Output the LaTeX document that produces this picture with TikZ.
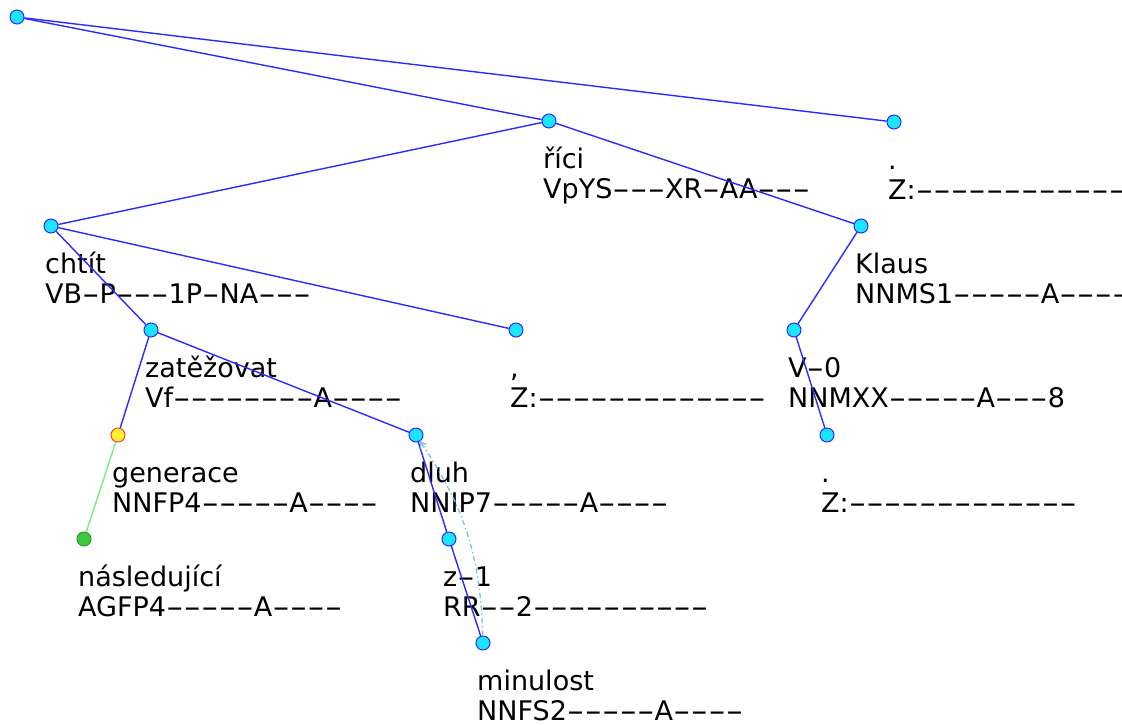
\documentclass[tikz,border=0pt]{standalone}
\usepackage{fontspec}
\setmainfont{DejaVu Sans}
\usepackage{graphicx}
\usetikzlibrary{arrows.meta}
\definecolor{edgeblue}{HTML}{2B2BFF}
\definecolor{nodecyan}{HTML}{1CE6FF}
\definecolor{corefblue}{HTML}{7FB8FF}
\definecolor{selfill}{HTML}{FFF22E}
\definecolor{selborder}{HTML}{FF3B30}
\definecolor{leafgreen}{HTML}{3CC83C}
\definecolor{leafborder}{HTML}{2A9A2A}
\definecolor{greenedge}{HTML}{7CEB7C}

% wide dashes inside forms and tags
\newcommand\tagdash{\makebox[0.65em]{\scalebox{1.8}[1]{-}}}
\def\tagloop#1{\ifx\relax#1\else\tagchar#1\expandafter\tagloop\fi}
\def\tagchar#1{\ifx-#1\tagdash\else#1\fi}
\newcommand\tagtext[1]{\tagloop#1\relax}

% form and tag under a tree node
\newcommand\treelabel[3]{%
  \node[lbl] (#1-form) at ([shift={(-6,47)}]#1.center) {\tagtext{#2}};
  \node[lbl] (#1-tag) at ([shift={(-6,77)}]#1.center) {\tagtext{#3}};}

\begin{document}
\begin{tikzpicture}[
      x=1pt, y=-1pt,
      tnode/.style={circle, draw=edgeblue, fill=nodecyan, line width=1pt,
                    minimum size=14pt, inner sep=0pt},
      selnode/.style={tnode, draw=selborder, fill=selfill},
      leafnode/.style={tnode, draw=leafborder, fill=leafgreen},
      tedge/.style={edgeblue, line width=1.4pt},
      gedge/.style={greenedge, line width=1.4pt},
      coref/.style={corefblue, line width=1.3pt,
                    dash pattern=on 5pt off 3pt on 1.5pt off 3pt,
                    -{Straight Barb[length=5pt, width=7pt]}},
      lbl/.style={anchor=base west, inner sep=0pt,
                  font=\fontsize{27}{30}\selectfont}
    ]
    \useasboundingbox (0,0) rectangle (1122,724);

    % tree nodes
    \node[tnode] (root) at (17,17) {};
    \node[tnode] (rici) at (549,121) {};
    \node[tnode] (tecka1) at (894,122) {};
    \node[tnode] (chtit) at (51,226) {};
    \node[tnode] (klaus) at (861,226) {};
    \node[tnode] (zatezovat) at (151,330) {};
    \node[tnode] (carka) at (516,330) {};
    \node[tnode] (v0) at (794,330) {};
    \node[selnode] (generace) at (118,435) {};
    \node[tnode] (dluh) at (416,435) {};
    \node[tnode] (tecka2) at (827,435) {};
    \node[leafnode] (nasledujici) at (84,539) {};
    \node[tnode] (z1) at (449,539) {};
    \node[tnode] (minulost) at (483,643) {};

    % forms and tags
    \treelabel{rici}{říci}{VpYS---XR-AA---}
    \treelabel{tecka1}{.}{Z:-------------}
    \treelabel{chtit}{chtít}{VB-P---1P-NA---}
    \treelabel{klaus}{Klaus}{NNMS1-----A----}
    \treelabel{zatezovat}{zatěžovat}{Vf--------A----}
    \treelabel{carka}{,}{Z:-------------}
    \treelabel{v0}{V-0}{NNMXX-----A---8}
    \treelabel{generace}{generace}{NNFP4-----A----}
    \treelabel{dluh}{dluh}{NNIP7-----A----}
    \treelabel{tecka2}{.}{Z:-------------}
    \treelabel{nasledujici}{následující}{AGFP4-----A----}
    \treelabel{z1}{z-1}{RR--2----------}
    \treelabel{minulost}{minulost}{NNFS2-----A----}

    % dependencies
    \draw[tedge] (root) -- (rici);
    \draw[tedge] (root) -- (tecka1);
    \draw[tedge] (rici) -- (chtit);
    \draw[tedge] (rici) -- (klaus);
    \draw[tedge] (chtit) -- (zatezovat);
    \draw[tedge] (chtit) -- (carka);
    \draw[tedge] (zatezovat) -- (generace);
    \draw[tedge] (zatezovat) -- (dluh);
    \draw[gedge] (generace) -- (nasledujici);
    \draw[tedge] (dluh) -- (z1);
    \draw[tedge] (z1) -- (minulost);
    \draw[tedge] (klaus) -- (v0);
    \draw[tedge] (v0) -- (tecka2);
    \draw[coref] (minulost) to[bend right=16] (dluh);
  \end{tikzpicture}
\end{document}
